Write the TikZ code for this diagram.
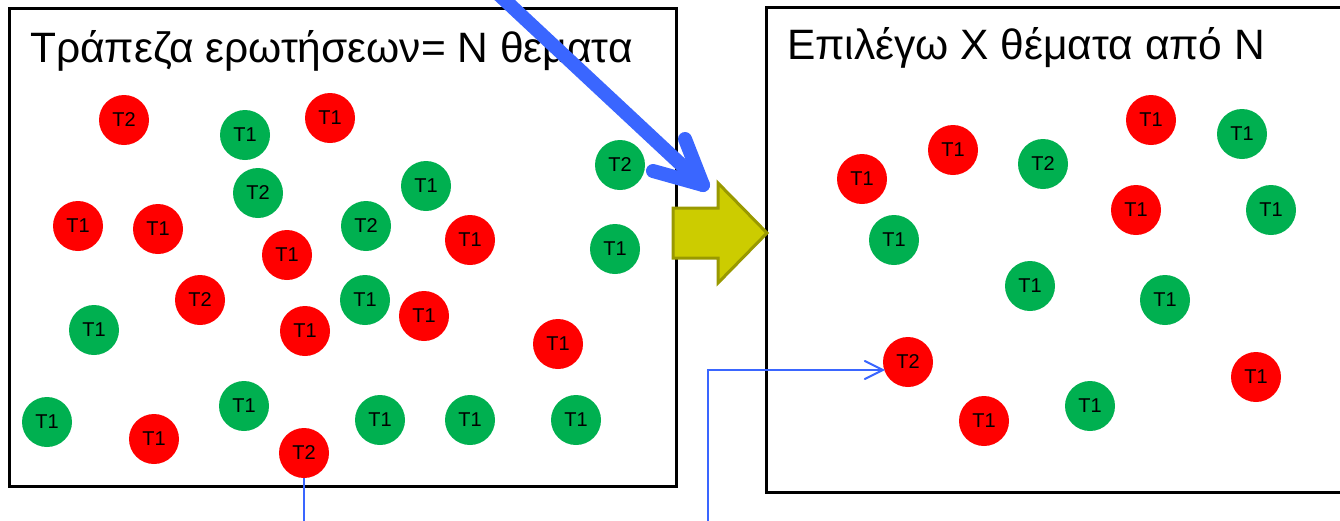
\documentclass[tikz,border=0pt]{standalone}
\usepackage{fontspec}
\setmainfont{Liberation Sans}
\usetikzlibrary{calc}
\definecolor{tred}{HTML}{FF0000}
\definecolor{tgreen}{HTML}{00B050}
\definecolor{bblue}{HTML}{3A66FF}
\definecolor{ayel}{HTML}{CCCC00}
\definecolor{aolive}{HTML}{999900}
\tikzset{
  tnode/.style={circle, minimum size=50pt, inner sep=0pt, font=\fontsize{20}{20}\selectfont},
  rc/.style={tnode, fill=tred},
  gc/.style={tnode, fill=tgreen},
  framebox/.style={draw=black, line width=3pt, inner sep=0pt, anchor=north west},
  titletext/.style={anchor=base west, inner sep=0pt, font=\fontsize{42.5}{42.5}\selectfont},
  bigblue/.style={draw=bblue, line width=14pt, line cap=round, line join=round},
  thinblue/.style={draw=bblue, line width=2pt},
  blockarrow/.style={fill=ayel, draw=aolive, line width=3pt, line join=miter}
}
\begin{document}
\begin{tikzpicture}[x=1pt,y=-1pt]
\useasboundingbox (0,0) rectangle (1340,520);
% frames
\node[framebox, minimum width=667pt, minimum height=478pt] (lbox) at (8,7) {};
\node[framebox, minimum width=600pt, minimum height=485pt] (rbox) at (765,6) {};
\node[titletext] (ltitle) at (30,62) {Τράπεζα ερωτήσεων= Ν θεματα};
\node[titletext] (rtitle) at (787,59) {Επιλέγω Χ θέματα από Ν};
% left circles
\node[rc] (l1) at (124,120) {T2};
\node[gc] (l2) at (245,135) {T1};
\node[rc] (l3) at (330,118) {T1};
\node[gc] (l4) at (258,193) {T2};
\node[gc] (l5) at (426,186) {T1};
\node[gc] (l6) at (620,165) {T2};
\node[rc] (l7) at (78,226) {T1};
\node[rc] (l8) at (158,229) {T1};
\node[rc] (l9) at (287,255) {T1};
\node[gc] (l10) at (366,226) {T2};
\node[rc] (l11) at (470,240) {T1};
\node[gc] (l12) at (615,249) {T1};
\node[rc] (l13) at (200,300) {T2};
\node[gc] (l14) at (365,300) {T1};
\node[rc] (l15) at (424,316) {T1};
\node[gc] (l16) at (94,330) {T1};
\node[rc] (l17) at (305,331) {T1};
\node[rc] (l18) at (558,344) {T1};
\node[gc] (l19) at (47,422) {T1};
\node[rc] (l20) at (154,439) {T1};
\node[gc] (l21) at (244,406) {T1};
\node[gc] (l22) at (380,420) {T1};
\node[gc] (l23) at (470,420) {T1};
\node[gc] (l24) at (576,420) {T1};
\node[rc] (l25) at (304,453) {T2};
% right circles
\node[rc] (r1) at (1151,120) {T1};
\node[gc] (r2) at (1242,134) {T1};
\node[rc] (r3) at (953,150) {T1};
\node[gc] (r4) at (1043,164) {T2};
\node[rc] (r5) at (862,179) {T1};
\node[rc] (r6) at (1136,210) {T1};
\node[gc] (r7) at (1271,210) {T1};
\node[gc] (r8) at (894,240) {T1};
\node[gc] (r9) at (1030,286) {T1};
\node[gc] (r10) at (1165,300) {T1};
\node[rc] (r11) at (908,362) {T2};
\node[rc] (r12) at (1256,377) {T1};
\node[gc] (r13) at (1090,406) {T1};
\node[rc] (r14) at (984,421) {T1};
% yellow block arrow
\draw[blockarrow] (673,208) -- (718,208) -- (718,183) -- (767,233) -- (718,283) -- (718,258) -- (673,258) -- cycle;
% big blue arrow
\coordinate (bs) at (494,-10);
\coordinate (bt) at (703,185);
\draw[bigblue] (bs) -- (bt);
\draw[bigblue] ($(bt)+(-18,-46)$) -- (bt) -- ($(bt)+(-50,-14)$);
% thin blue connectors
\coordinate (e1) at (l25.south |- 0,525);
\draw[thinblue] (l25.south) -- (e1);
\coordinate (s2) at (708,525);
\coordinate (c2) at (708,370);
\draw[thinblue] (s2) -- (c2) -- (c2 -| r11.west);
\draw[thinblue, line cap=round] ($(c2 -| r11.west)+(-18,-9)$) -- (c2 -| r11.west) -- ($(c2 -| r11.west)+(-18,9)$);
\end{tikzpicture}
\end{document}
